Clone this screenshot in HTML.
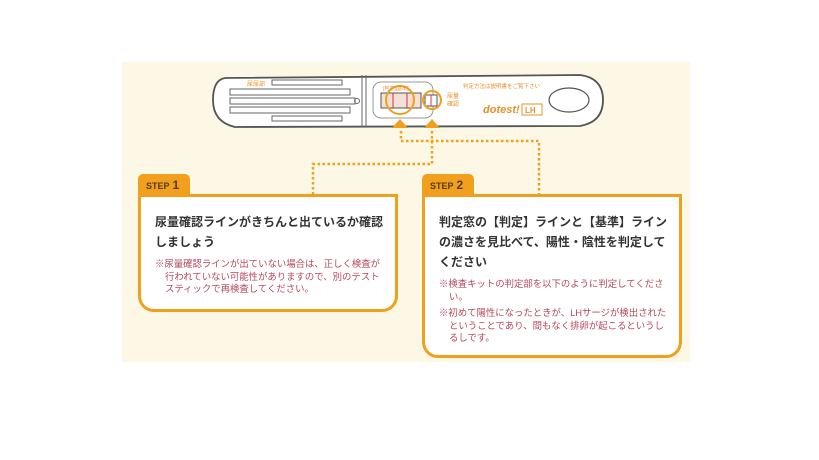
<!DOCTYPE html>
<html><head><meta charset="utf-8"><style>
body{margin:0;width:819px;height:460px;background:#fff;position:relative;font-family:"Liberation Sans","Noto Sans CJK JP",sans-serif;overflow:hidden}
.bg{position:absolute;left:122px;top:62px;width:568px;height:300px;background:#fdf8e6}
.tab{position:absolute;height:21px;width:52px;background:#f0a01c;border-radius:5px 5px 0 0;color:#5a3a10;font-size:9px;font-weight:bold;line-height:22px;padding-left:8px;box-sizing:border-box}
.tab b{font-size:12px;margin-left:3px}
.box{position:absolute;background:#fff;border:3px solid #f0a01c;border-radius:0 0 16px 16px;box-sizing:border-box;padding:15px 10px 0 14px}
.h{font-size:12px;font-weight:bold;color:#333;line-height:20px;margin-bottom:6px}
.n{font-size:9.4px;color:#b5475a;line-height:12.5px;padding-left:10px;text-indent:-10px;margin-bottom:4px}
</style></head><body>
<div class="bg"></div>
<svg width="819" height="460" style="position:absolute;left:0;top:0">
<path d="M225 78 L580 75 Q603 78 603 100 Q603 122 580 126 L235 127 Q213 122 213 100 Q213 80 225 78Z" fill="#fff" stroke="#555" stroke-width="1.8"/>
<line x1="362" y1="75" x2="362" y2="127" stroke="#666" stroke-width="1"/>
<line x1="366" y1="75" x2="366" y2="127" stroke="#666" stroke-width="1"/>
<rect x="230" y="89" width="120" height="6" fill="none" stroke="#666"/>
<rect x="230" y="98" width="125" height="6" fill="none" stroke="#666"/>
<rect x="230" y="107" width="120" height="6" fill="none" stroke="#666"/>
<rect x="272" y="80" width="70" height="5" fill="none" stroke="#666"/>
<rect x="272" y="116" width="70" height="5" fill="none" stroke="#666"/>
<text x="247" y="86" font-size="6" fill="#e8902a">尿尿部</text>
<circle cx="357" cy="101" r="2.5" fill="none" stroke="#666"/>
<rect x="373" y="82" width="60" height="36" rx="8" fill="none" stroke="#999"/>
<rect x="381" y="93" width="40" height="15" fill="#f5e0d5" stroke="#555"/>
<line x1="393" y1="93" x2="393" y2="108" stroke="#d03050"/>
<line x1="407" y1="93" x2="407" y2="108" stroke="#d03050"/>
<circle cx="400" cy="100" r="14" fill="none" stroke="#f0a01c" stroke-width="2"/>
<rect x="425" y="95" width="12" height="11" fill="#fff" stroke="#555"/>
<line x1="431" y1="95" x2="431" y2="106" stroke="#d03050"/>
<circle cx="432" cy="100" r="9" fill="none" stroke="#f0a01c" stroke-width="2"/>
<text x="383" y="90" font-size="5" fill="#e8902a">[判定][基準]</text>
<text x="447" y="98" font-size="6" fill="#e8902a">尿量</text>
<text x="447" y="106" font-size="6" fill="#e8902a">確認</text>
<text x="463" y="88" font-size="5.5" fill="#e8902a">判定方法は説明書をご覧下さい</text>
<text x="483" y="113" font-size="11" font-weight="bold" font-style="italic" fill="#e8902a">dotest!</text>
<rect x="522" y="104" width="20" height="11" fill="none" stroke="#e8902a"/>
<text x="525" y="113" font-size="8" font-weight="bold" fill="#e8902a">LH</text>
<ellipse cx="569" cy="100" rx="20" ry="12" fill="none" stroke="#555" stroke-width="1.2"/>
<polygon points="392,128 408,128 400,119" fill="#f0a01c"/>
<polygon points="424,128 440,128 432,119" fill="#f0a01c"/>
<g fill="none" stroke="#f0a01c" stroke-width="2.5" stroke-dasharray="2.5 2.5">
<path d="M401 131 V141 H539 V194"/>
<path d="M432 131 V164 H313 V194"/>
</g>
</svg>
<div class="tab" style="left:138px;top:174px">STEP<b>1</b></div>
<div class="box" style="left:138px;top:194px;width:260px;height:118px">
<div class="h">尿量確認ラインがきちんと出ているか確認しましょう</div>
<div class="n">※尿量確認ラインが出ていない場合は、正しく検査が行われていない可能性がありますので、別のテストスティックで再検査してください。</div>
</div>
<div class="tab" style="left:422px;top:174px">STEP<b>2</b></div>
<div class="box" style="left:422px;top:194px;width:260px;height:164px">
<div class="h">判定窓の【判定】ラインと【基準】ラインの濃さを見比べて、陽性・陰性を判定してください</div>
<div class="n">※検査キットの判定部を以下のように判定してください。</div>
<div class="n">※初めて陽性になったときが、LHサージが検出されたということであり、間もなく排卵が起こるというしるしです。</div>
</div>
</body></html>
